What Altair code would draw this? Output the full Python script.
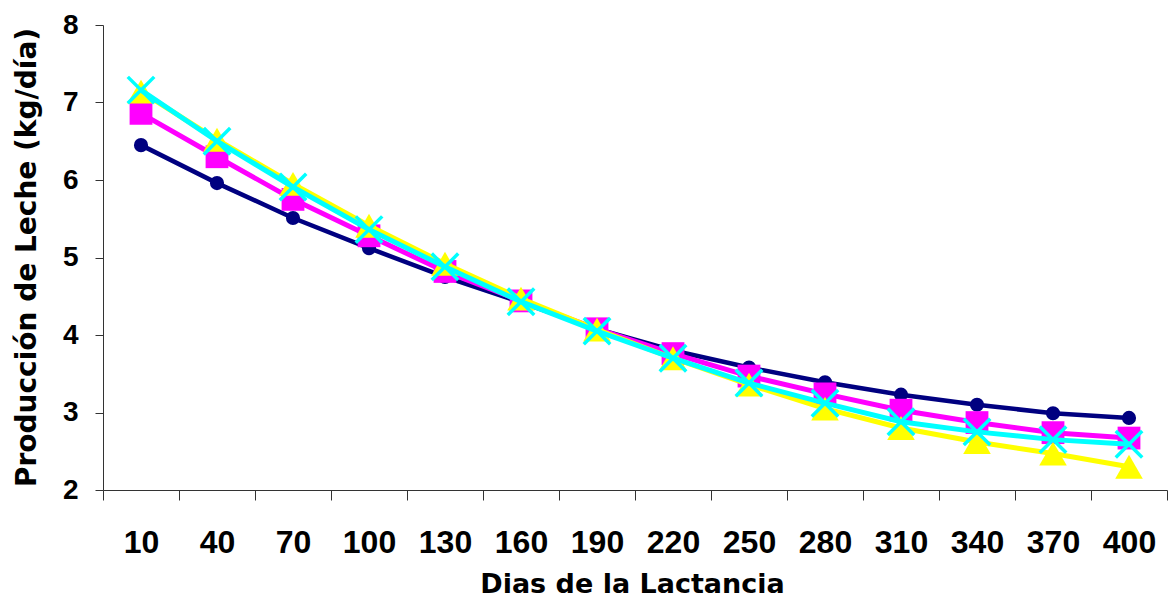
import altair as alt
import pandas as pd

dias = [10, 40, 70, 100, 130, 160, 190, 220, 250, 280, 310, 340, 370, 400]
serie_navy = [6.45, 5.96, 5.51, 5.12, 4.75, 4.42, 4.08, 3.80, 3.58, 3.39, 3.23, 3.10, 2.99, 2.93]
serie_magenta = [6.86, 6.30, 5.75, 5.28, 4.82, 4.44, 4.08, 3.76, 3.47, 3.24, 3.03, 2.87, 2.74, 2.67]
serie_yellow = [7.14, 6.52, 5.95, 5.41, 4.92, 4.47, 4.07, 3.70, 3.36, 3.05, 2.80, 2.62, 2.47, 2.30]
serie_cyan = [7.16, 6.50, 5.91, 5.36, 4.88, 4.43, 4.05, 3.70, 3.38, 3.12, 2.88, 2.75, 2.65, 2.59]

series = [
    ("S1", serie_navy, "#000080", "circle", 200, 4.5, True),
    ("S2", serie_magenta, "#FF00FF", "square", 520, 5, True),
    ("S3", serie_yellow, "#FFFF00", "triangle-up", 760, 5, True),
    ("S4", serie_cyan, "#00FFFF", "M-1,-1L1,1M-1,1L1,-1", 700, 5, False),
]

x_axis = alt.Axis(
    title="Dias de la Lactancia",
    labelAngle=0,
    labelFont="Liberation Sans",
    labelFontSize=32,
    labelFontWeight="bold",
    labelColor="black",
    labelBaseline="alphabetic",
    labelPadding=52,
    tickSize=10,
    tickBand="extent",
    tickColor="#333333",
    domainColor="#333333",
    titleFont="DejaVu Sans",
    titleFontSize=27,
    titleFontWeight="bold",
    titleColor="black",
    titleX=529,
    titleY=102,
    titleBaseline="alphabetic",
    titleAlign="center",
)

y_axis = alt.Axis(
    title="Producción de Leche (kg/día)",
    values=[2, 3, 4, 5, 6, 7, 8],
    grid=False,
    labelFont="Liberation Sans",
    labelFontSize=28,
    labelFontWeight="bold",
    labelColor="black",
    labelPadding=17,
    tickSize=8,
    tickColor="#333333",
    domainColor="#333333",
    titleFont="DejaVu Sans",
    titleFontSize=28,
    titleFontWeight="bold",
    titleColor="black",
    titleAngle=270,
    titleX=-68,
    titleY=232,
    titleBaseline="alphabetic",
    titleAlign="center",
)

x_enc = alt.X("dia:O", scale=alt.Scale(type="band", paddingInner=0, paddingOuter=0),
              bandPosition=0.5, axis=x_axis)
y_enc = alt.Y("valor:Q", scale=alt.Scale(domain=[2, 8], nice=False, zero=False), axis=y_axis)

lines = []
points = []
for name, vals, color, shape, size, sw, filled in series:
    df = pd.DataFrame({"dia": dias, "valor": vals, "serie": name})
    base = alt.Chart(df)
    lines.append(base.mark_line(color=color, strokeWidth=sw).encode(x=x_enc, y=y_enc))
    if filled:
        pm = base.mark_point(shape=shape, size=size, filled=True, color=color, opacity=1, strokeWidth=0)
    else:
        pm = base.mark_point(shape=shape, size=size, filled=False, color=color, opacity=1, strokeWidth=3.5)
    points.append(pm.encode(x=x_enc, y=y_enc))

layers = []
for l, p in zip(lines, points):
    layers.append(l)
    layers.append(p)

chart = alt.layer(*layers).properties(
    width=1064,
    height=465,
    autosize="none",
    padding={"left": 103, "top": 25, "right": 4, "bottom": 115},
    background="white",
).configure_view(strokeWidth=0)

chart.save("out.html", embed_options={"renderer": "svg", "actions": False})
